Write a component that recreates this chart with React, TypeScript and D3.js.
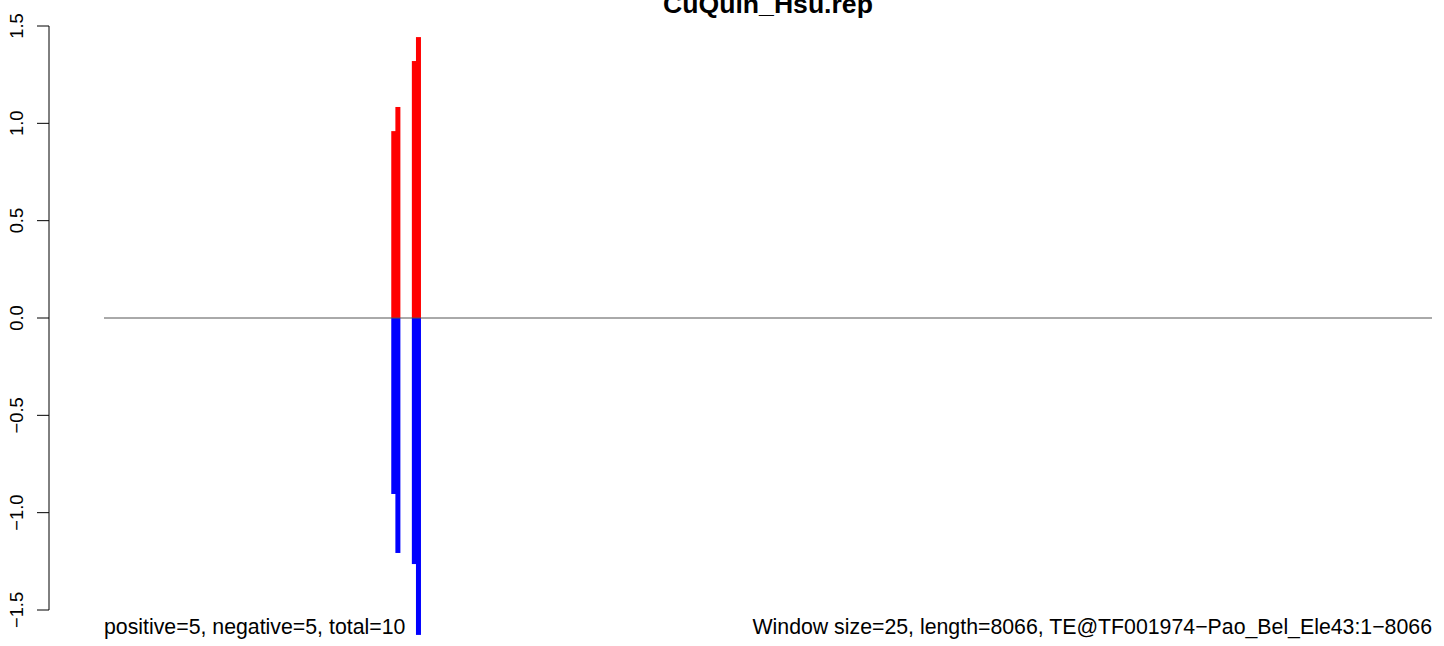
import React from "react";
import * as d3 from "d3";

const title = "CuQuin_Hsu.rep";
const seqLength = 8066;
const positions = [1760, 1785, 1885, 1910];
const posValues = [0.96, 1.084, 1.32, 1.443];
const negValues = [-0.904, -1.207, -1.264, -1.628];
const yTicks = [-1.5, -1.0, -0.5, 0.0, 0.5, 1.0, 1.5];
const leftNote = "positive=5, negative=5, total=10";
const rightNote = "Window size=25, length=8066, TE@TF001974\u2212Pao_Bel_Ele43:1\u22128066";

const W = 1444;
const H = 646;
const FONT = "'Liberation Sans', Arial, Helvetica, sans-serif";

function fmt(v: number) {
  return v.toFixed(1).replace("-", "\u2212");
}

export default function App() {
  const x = d3.scaleLinear().domain([0, seqLength]).range([104, 1432]);
  const y = d3.scaleLinear().domain([-1.5, 1.5]).range([610, 26]);
  const bw = 5;
  const axisX = 49;

  return (
    <svg
      width={W}
      height={H}
      style={{ position: "absolute", left: 0, top: 0, background: "#fff" }}
      fontFamily={FONT}
    >
      <rect x={0} y={0} width={W} height={H} fill="#fff" />
      <text x={768} y={13} textAnchor="middle" fontWeight="bold" fontSize={26.6}>
        {title}
      </text>
      {/* y axis */}
      <line x1={axisX} x2={axisX} y1={y(-1.5)} y2={y(1.5)} stroke="#000" strokeWidth={1} />
      {yTicks.map((t) => (
        <g key={t}>
          <line x1={axisX - 12} x2={axisX} y1={y(t)} y2={y(t)} stroke="#000" strokeWidth={1} />
          <text
            transform={`translate(23,${y(t)}) rotate(-90)`}
            textAnchor="middle"
            fontSize={18.3}
          >
            {fmt(t)}
          </text>
        </g>
      ))}
      {/* bars */}
      {positions.map((p, i) => (
        <g key={p}>
          <rect x={x(p) - bw / 2} y={y(posValues[i])} width={bw} height={y(0) - y(posValues[i])} fill="#ff0000" />
          <rect x={x(p) - bw / 2} y={y(0)} width={bw} height={y(negValues[i]) - y(0)} fill="#0000ff" />
        </g>
      ))}
      {/* zero line */}
      <line x1={x(0)} x2={x(seqLength)} y1={y(0)} y2={y(0)} stroke="#555" strokeWidth={1} />
      <text x={x(0)} y={634} fontSize={21.3} textAnchor="start">
        {leftNote}
      </text>
      <text x={x(seqLength)} y={634} fontSize={21.3} textAnchor="end">
        {rightNote}
      </text>
    </svg>
  );
}
